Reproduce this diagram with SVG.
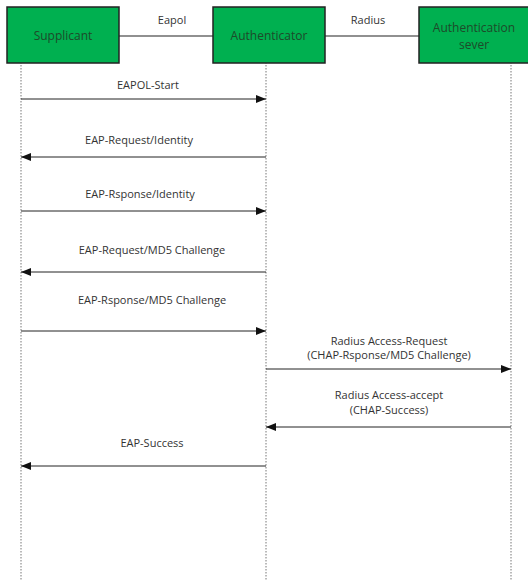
<svg xmlns="http://www.w3.org/2000/svg" width="528" height="580" viewBox="0 0 528 580">
<defs>
<style>
.box{fill:#00b050;stroke:#222;stroke-width:1.5}
.bt{font-family:"Open Sans","Noto Sans",sans-serif;font-size:12px;fill:#1e4a2a;text-anchor:middle}
.lt{font-family:"Open Sans","Noto Sans",sans-serif;font-size:11px;fill:#333;text-anchor:middle}
.life{stroke:#777;stroke-width:1;stroke-dasharray:1.5,1.5;fill:none}
.msg{stroke:#222;stroke-width:1;fill:none}
.link{stroke:#222;stroke-width:1.2;fill:none}
</style>
<marker id="ah" viewBox="0 0 10 8" refX="10" refY="4" markerWidth="10" markerHeight="8" markerUnits="userSpaceOnUse" orient="auto">
<path d="M0,0 L10,4 L0,8 Z" fill="#111"/>
</marker>
</defs>
<rect width="528" height="580" fill="#fff"/>
<g id="lifelines">
<line class="life" x1="21" y1="62" x2="21" y2="580"/>
<line class="life" x1="266" y1="62" x2="266" y2="580"/>
<line class="life" x1="511" y1="62" x2="511" y2="580"/>
</g>
<g id="links">
<line class="link" x1="119" y1="36" x2="213" y2="36"/>
<text class="lt" x="172" y="24">Eapol</text>
<line class="link" x1="325" y1="36" x2="419" y2="36"/>
<text class="lt" x="368" y="24">Radius</text>
</g>
<g id="supplicant">
<rect class="box" x="7" y="7" width="112" height="56"/>
<text class="bt" x="63" y="40">Supplicant</text>
</g>
<g id="authenticator">
<rect class="box" x="213" y="7" width="112" height="56"/>
<text class="bt" x="269" y="40">Authenticator</text>
</g>
<g id="auth-server">
<rect class="box" x="419" y="7" width="115" height="56"/>
<text class="bt" x="474" y="32">Authentication</text>
<text class="bt" x="474" y="49">sever</text>
</g>
<g id="connectors">
<line class="msg" x1="21" y1="99" x2="266" y2="99" marker-end="url(#ah)"/>
<text class="lt" x="148" y="89">EAPOL-Start</text>
<line class="msg" x1="266" y1="157" x2="21" y2="157" marker-end="url(#ah)"/>
<text class="lt" x="139" y="144">EAP-Request/Identity</text>
<line class="msg" x1="21" y1="211" x2="266" y2="211" marker-end="url(#ah)"/>
<text class="lt" x="140" y="198">EAP-Rsponse/Identity</text>
<line class="msg" x1="266" y1="272" x2="21" y2="272" marker-end="url(#ah)"/>
<text class="lt" x="152" y="254">EAP-Request/MD5 Challenge</text>
<line class="msg" x1="21" y1="331" x2="266" y2="331" marker-end="url(#ah)"/>
<text class="lt" x="152" y="304">EAP-Rsponse/MD5 Challenge</text>
<line class="msg" x1="266" y1="369" x2="511" y2="369" marker-end="url(#ah)"/>
<text class="lt" x="389" y="345">Radius Access-Request</text>
<text class="lt" x="389" y="359">(CHAP-Rsponse/MD5 Challenge)</text>
<line class="msg" x1="511" y1="427" x2="266" y2="427" marker-end="url(#ah)"/>
<text class="lt" x="389" y="399">Radius Access-accept</text>
<text class="lt" x="389" y="414">(CHAP-Success)</text>
<line class="msg" x1="266" y1="466" x2="21" y2="466" marker-end="url(#ah)"/>
<text class="lt" x="152" y="447">EAP-Success</text>
</g>
</svg>
